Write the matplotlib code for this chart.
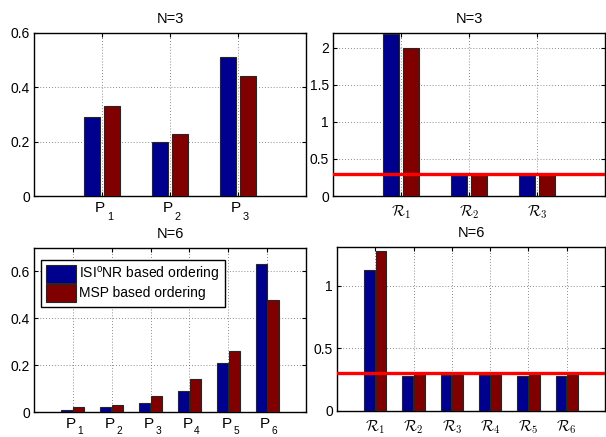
import numpy as np
import matplotlib
matplotlib.use("Agg")
import matplotlib.pyplot as plt

plt.rcParams['font.family'] = ['Liberation Sans', 'DejaVu Sans']
plt.rcParams['mathtext.fontset'] = 'custom'
plt.rcParams['mathtext.rm'] = 'Liberation Sans'
plt.rcParams['mathtext.it'] = 'Liberation Sans:italic'
plt.rcParams['mathtext.bf'] = 'Liberation Sans:bold'

# ---------------- data ----------------
series_names = ['ISI$^\\mathrm{o}$NR based ordering', 'MSP based ordering']
colors = ['#00008F', '#800000']

p3_subs = ['1', '2', '3']
p3_isinr = [0.29, 0.20, 0.51]
p3_msp = [0.33, 0.23, 0.44]

r3_labels = ['$\\mathcal{R}_1$', '$\\mathcal{R}_2$', '$\\mathcal{R}_3$']
r3_isinr = [2.18, 0.29, 0.29]
r3_msp = [2.00, 0.30, 0.30]

p6_subs = ['1', '2', '3', '4', '5', '6']
p6_isinr = [0.01, 0.02, 0.04, 0.09, 0.21, 0.63]
p6_msp = [0.02, 0.03, 0.07, 0.14, 0.26, 0.48]

r6_labels = ['$\\mathcal{R}_%d$' % i for i in range(1, 7)]
r6_isinr = [1.13, 0.28, 0.29, 0.29, 0.28, 0.28]
r6_msp = [1.28, 0.30, 0.29, 0.29, 0.29, 0.29]

threshold = 0.3
titles = ['N=3', 'N=3', 'N=6', 'N=6']

# ---------------- figure ----------------
W, H = 606, 437
PX = 0.72  # points per pixel at dpi=100
fig = plt.figure(figsize=(W / 100, H / 100), dpi=100)


def add_ax(l, r, t, b):
    return fig.add_axes([l / W, (H - b) / H, (r - l) / W, (b - t) / H])


def style(ax, xlim, ylim, yticks, yticklabels, n, title):
    ax.set_xlim(*xlim)
    ax.set_ylim(*ylim)
    ax.set_yticks(yticks)
    ax.set_yticklabels(yticklabels)
    ax.set_xticks(np.arange(1, n + 1))
    ax.grid(True, linestyle=(0, (1, 2.5)), color='0.4', linewidth=0.6)
    ax.set_axisbelow(True)
    ax.tick_params(direction='in', length=3, width=0.8, labelsize=10,
                   top=True, right=True, pad=3)
    for s in ax.spines.values():
        s.set_linewidth(1.0)
    ax.set_title(title, fontsize=10.5, pad=7.5)


def p_labels(ax, subs, top_px, sub_drop, sub_size):
    ax.set_xticklabels([''] * len(subs))
    for i, s in enumerate(subs, start=1):
        ax.annotate('P', xy=(i, 0), xycoords=('data', 'axes fraction'),
                    xytext=(-1.9 * PX, -top_px * PX), textcoords='offset points',
                    ha='center', va='top', fontsize=11, annotation_clip=False)
        ax.annotate(s, xy=(i, 0), xycoords=('data', 'axes fraction'),
                    xytext=(4.8 * PX, -(top_px + sub_drop) * PX),
                    textcoords='offset points',
                    ha='left', va='top', fontsize=sub_size, annotation_clip=False)


def r_labels(ax, labels):
    ax.set_xticklabels(labels)
    for t in ax.get_xticklabels():
        t.set_math_fontfamily('cm')
        t.set_fontsize(11)
    ax.tick_params(axis='x', pad=5)


def draw_bars(ax, a, b, width, off):
    x = np.arange(1, len(a) + 1)
    ax.bar(x - off, a, width, color=colors[0], edgecolor='0.15', linewidth=0.8,
           label=series_names[0], zorder=3)
    ax.bar(x + off, b, width, color=colors[1], edgecolor='0.15', linewidth=0.8,
           label=series_names[1], zorder=3)


# top-left
ax1 = add_ax(34, 306, 33, 196)
draw_bars(ax1, p3_isinr, p3_msp, 0.245, 0.148)
style(ax1, (0, 4), (0, 0.6), [0, 0.2, 0.4, 0.6], ['0', '0.2', '0.4', '0.6'],
      len(p3_subs), titles[0])
p_labels(ax1, p3_subs, 4.7, 11, 7.8)

# top-right
ax2 = add_ax(333, 605, 33, 196)
draw_bars(ax2, r3_isinr, r3_msp, 0.235, 0.148)
ax2.axhline(threshold, color='#FF0000', linewidth=2.4, zorder=5)
style(ax2, (0, 4), (0, 2.2), [0, 0.5, 1, 1.5, 2], ['0', '0.5', '1', '1.5', '2'],
      len(r3_labels), titles[1])
r_labels(ax2, r3_labels)

# bottom-left
ax3 = add_ax(34, 306, 248, 412)
draw_bars(ax3, p6_isinr, p6_msp, 0.285, 0.15)
style(ax3, (0, 7), (0, 0.7), [0, 0.2, 0.4, 0.6], ['0', '0.2', '0.4', '0.6'],
      len(p6_subs), titles[2])
p_labels(ax3, p6_subs, 4.5, 10, 7.3)
leg = ax3.legend(loc='upper left', bbox_to_anchor=(7 / 272, 1 - 12 / 164),
                 fontsize=10, frameon=True, fancybox=False, framealpha=1,
                 edgecolor='black', handlelength=2.2, handleheight=1.6,
                 labelspacing=0.0, borderpad=0.35, handletextpad=0.2,
                 borderaxespad=0)
leg.get_frame().set_linewidth(1.0)

# bottom-right
ax4 = add_ax(337, 605, 247, 411)
draw_bars(ax4, r6_isinr, r6_msp, 0.28, 0.15)
ax4.axhline(threshold, color='#FF0000', linewidth=2.4, zorder=5)
style(ax4, (0, 7), (0, 1.31), [0, 0.5, 1], ['0', '0.5', '1'],
      len(r6_labels), titles[3])
r_labels(ax4, r6_labels)

fig.savefig('out.png', dpi=100)
